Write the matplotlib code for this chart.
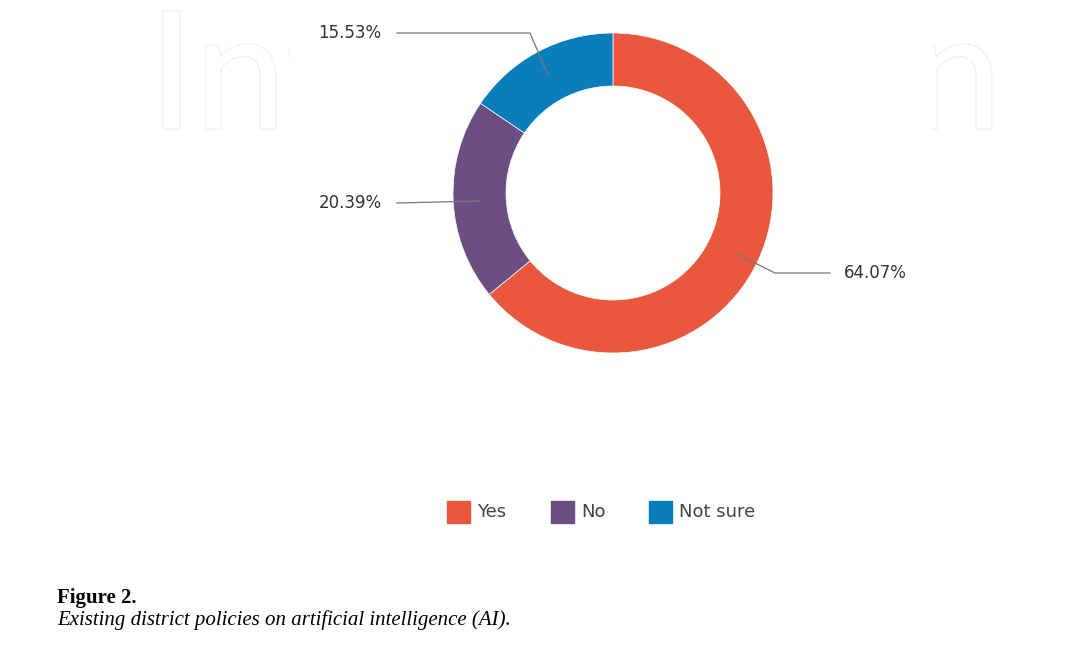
import matplotlib.pyplot as plt
import matplotlib.patheffects as pe

labels = ["Yes", "No", "Not sure"]
values = [64.07, 20.39, 15.53]
colors = ["#E8573E", "#6B4F82", "#0A7DBB"]
pct_text = ["64.07%", "20.39%", "15.53%"]

W, H = 1079, 659
fig = plt.figure(figsize=(W / 100, H / 100), dpi=100)
ax = fig.add_axes([0, 0, 1, 1])
ax.set_xlim(0, W)
ax.set_ylim(0, H)
ax.set_aspect("equal")
ax.axis("off")

# faint watermark
wm = ax.text(575, H - 82, "IntechOpen", fontsize=118, color="white", ha="center", va="center",
             family="Lato", zorder=0)
wm.set_path_effects([pe.withStroke(linewidth=1.5, foreground="#eeeeee")])
ax.add_patch(plt.Rectangle((290, 160), 640, 499, color="white", zorder=1))

cx, cy = 613, H - 193
ax.pie(values, colors=colors, startangle=90, counterclock=False, center=(cx, cy), radius=160,
       wedgeprops=dict(width=53, edgecolor="white", linewidth=0.5), frame=True)
ax.set_xlim(0, W)
ax.set_ylim(0, H)
ax.axis("off")

lc = "#777777"
# 15.53%
ax.plot([397, 530, 548], [H - 33, H - 33, H - 75], color=lc, lw=0.9, zorder=3)
ax.text(350, H - 33, pct_text[2], ha="center", va="center", fontsize=12, color="#333333")
# 20.39%
ax.plot([397, 480], [H - 203, H - 201], color=lc, lw=0.9, zorder=3)
ax.text(350, H - 203, pct_text[1], ha="center", va="center", fontsize=12, color="#333333")
# 64.07%
ax.plot([735, 775, 830], [H - 253, H - 273, H - 273], color=lc, lw=0.9, zorder=3)
ax.text(875, H - 273, pct_text[0], ha="center", va="center", fontsize=12, color="#333333")

# legend
lx = [447, 551, 649]
for x, lab, c in zip(lx, labels, colors):
    ax.add_patch(plt.Rectangle((x, H - 523), 23, 22, color=c, zorder=3))
    ax.text(x + 30, H - 512, lab, va="center", fontsize=13, color="#444444")

ax.text(57, H - 598, "Figure 2.", fontsize=15, fontweight="bold", family="Liberation Serif",
        va="center")
ax.text(57, H - 620, "Existing district policies on artificial intelligence (AI).", fontsize=15,
        style="italic", family="Liberation Serif", va="center")

fig.savefig("out.png", dpi=100)
